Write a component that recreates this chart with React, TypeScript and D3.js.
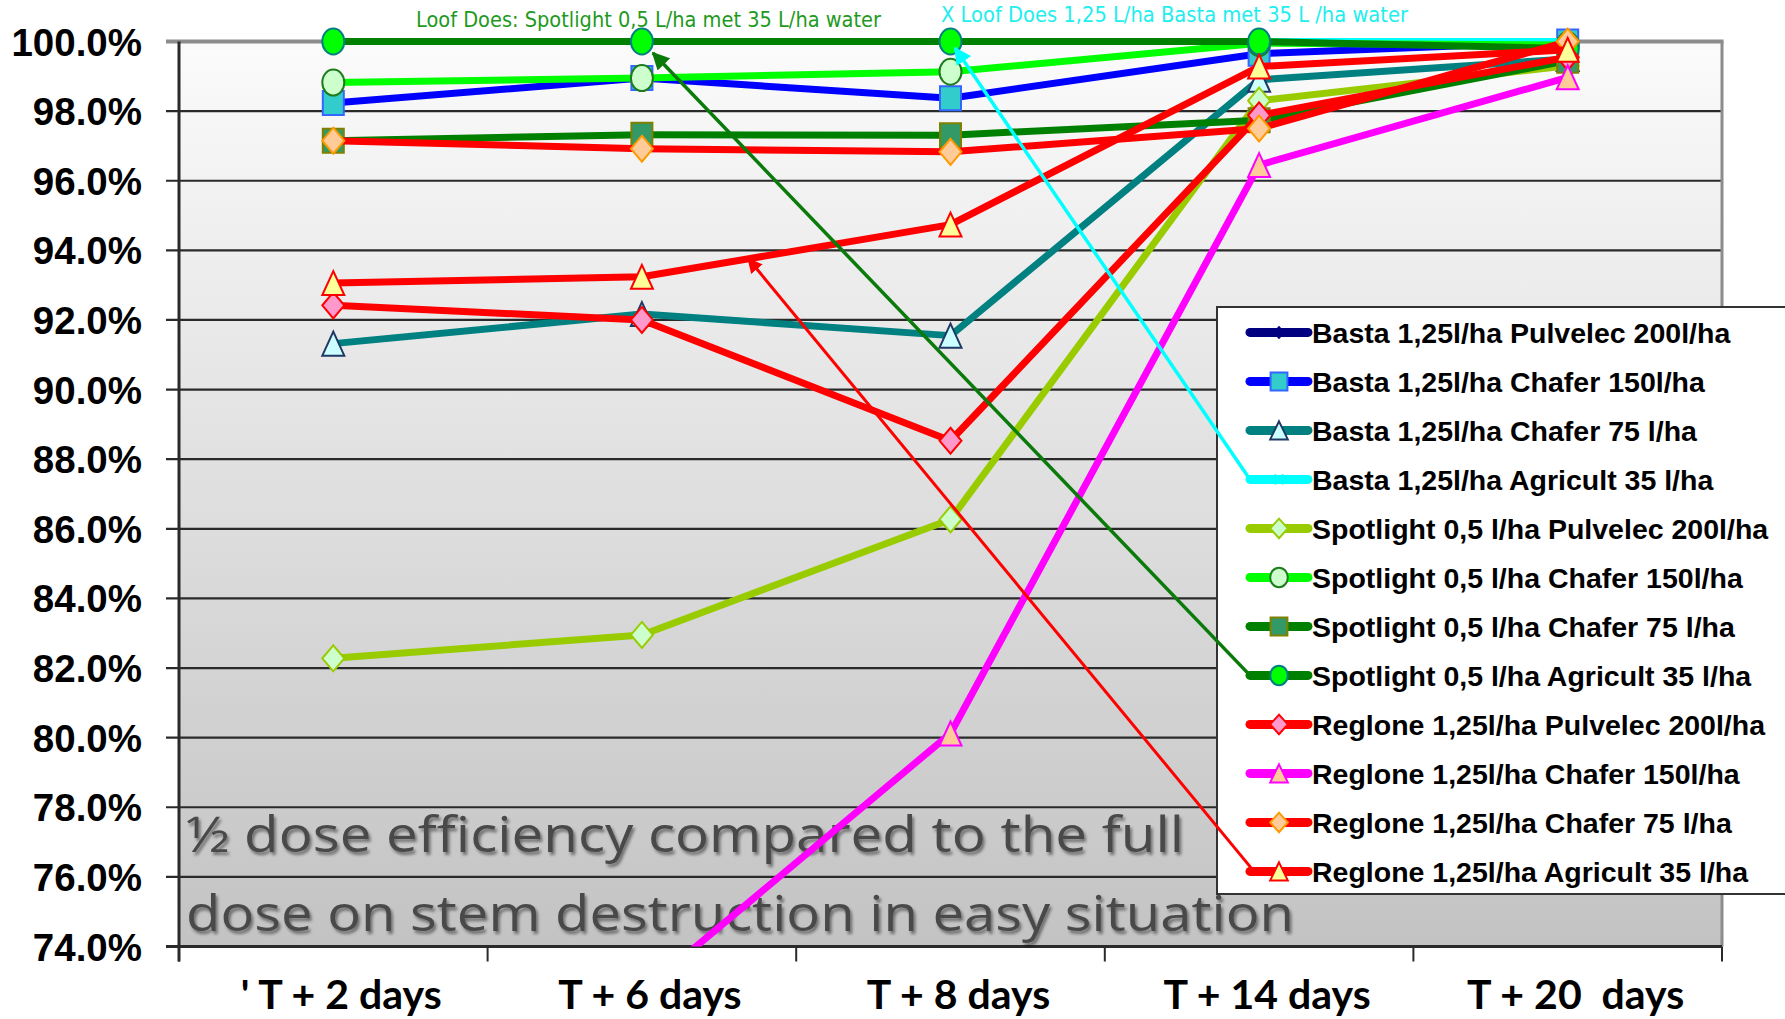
import React from 'react';
import * as d3 from 'd3';

const categories = ["' T + 2 days", 'T + 6 days', 'T + 8 days', 'T + 14 days', 'T + 20  days'];
const yTickValues = [74, 76, 78, 80, 82, 84, 86, 88, 90, 92, 94, 96, 98, 100];

const seriesNames = [
  'Basta 1,25l/ha Pulvelec 200l/ha',
  'Basta 1,25l/ha Chafer 150l/ha',
  'Basta 1,25l/ha Chafer 75 l/ha',
  'Basta 1,25l/ha Agricult 35 l/ha',
  'Spotlight 0,5 l/ha Pulvelec 200l/ha',
  'Spotlight 0,5 l/ha Chafer 150l/ha',
  'Spotlight 0,5 l/ha Chafer 75 l/ha',
  'Spotlight 0,5 l/ha Agricult 35 l/ha',
  'Reglone 1,25l/ha Pulvelec 200l/ha',
  'Reglone 1,25l/ha Chafer 150l/ha',
  'Reglone 1,25l/ha Chafer 75 l/ha',
  'Reglone 1,25l/ha Agricult 35 l/ha',
];

const bastaPulvelec200 = [100, 100, 100, 100, 100];
const bastaChafer150 = [98.23, 98.95, 98.37, 99.65, 100];
const bastaChafer75 = [91.32, 92.17, 91.55, 98.9, 99.5];
const bastaAgricult35 = [100, 100, 100, 100, 100];
const spotlightPulvelec200 = [82.28, 82.95, 86.27, 98.3, 99.3];
const spotlightChafer150 = [98.82, 98.95, 99.13, 99.95, 99.9];
const spotlightChafer75 = [97.15, 97.32, 97.31, 97.74, 99.45];
const spotlightAgricult35 = [100, 100, 100, 100, 99.8];
const reglonePulvelec200 = [92.42, 92.0, 88.53, 97.88, 99.55];
const regloneChafer150 = [70.0, 72.7, 80.12, 96.45, 98.97];
const regloneChafer75 = [97.15, 96.92, 96.83, 97.5, 100];
const regloneAgricult35 = [93.06, 93.24, 94.74, 99.28, 99.76];

const seriesValues = [
  bastaPulvelec200, bastaChafer150, bastaChafer75, bastaAgricult35,
  spotlightPulvelec200, spotlightChafer150, spotlightChafer75, spotlightAgricult35,
  reglonePulvelec200, regloneChafer150, regloneChafer75, regloneAgricult35,
];

const titleSpotlight = 'Loof Does: Spotlight 0,5 L/ha met 35 L/ha water';
const titleBasta = 'X Loof Does 1,25 L/ha Basta met 35 L /ha water';
const overlayLine1 = '\u00BD dose efficiency compared to the full';
const overlayLine2 = 'dose on stem destruction in easy situation';

type Style = { color: string; width: number; marker: string; fill: string; stroke: string; mw: number; mh: number };
const styles: Style[] = [
  { color: '#000080', width: 7, marker: 'diamond', fill: '#000080', stroke: '#000080', mw: 12, mh: 14 },
  { color: '#0000FF', width: 7, marker: 'square', fill: '#33CCCC', stroke: '#3366FF', mw: 21, mh: 24 },
  { color: '#008080', width: 7, marker: 'triangle', fill: '#CCFFFF', stroke: '#1F3864', mw: 22, mh: 24 },
  { color: '#00FFFF', width: 7, marker: 'x', fill: 'none', stroke: '#00FFFF', mw: 22, mh: 26 },
  { color: '#99CC00', width: 7, marker: 'diamond', fill: '#CCFFCC', stroke: '#99CC00', mw: 22, mh: 26 },
  { color: '#00FF00', width: 7, marker: 'circle', fill: '#CCFFCC', stroke: '#1E7B1E', mw: 22, mh: 26 },
  { color: '#008000', width: 7, marker: 'square', fill: '#339966', stroke: '#808000', mw: 21, mh: 24 },
  { color: '#008000', width: 7, marker: 'circle', fill: '#00FF00', stroke: '#008080', mw: 22, mh: 26 },
  { color: '#FF0000', width: 7, marker: 'diamond', fill: '#FF99CC', stroke: '#FF0000', mw: 22, mh: 26 },
  { color: '#FF00FF', width: 7, marker: 'triangle', fill: '#FFCC99', stroke: '#FF00FF', mw: 22, mh: 24 },
  { color: '#FF0000', width: 7, marker: 'diamond', fill: '#FFCC99', stroke: '#FF9900', mw: 22, mh: 26 },
  { color: '#FF0000', width: 7, marker: 'triangle', fill: '#FFFF99', stroke: '#FF0000', mw: 22, mh: 24 },
];

function markerPath(type: string, w: number, h: number): string {
  const a = w / 2, b = h / 2;
  switch (type) {
    case 'diamond': return `M0,${-b}L${a},0L0,${b}L${-a},0Z`;
    case 'square': return `M${-a},${-b}H${a}V${b}H${-a}Z`;
    case 'triangle': return `M0,${-b}L${a},${b}L${-a},${b}Z`;
    case 'circle': return `M${-a},0A${a},${b} 0 1,0 ${a},0A${a},${b} 0 1,0 ${-a},0Z`;
    case 'x': return `M${-a * 0.5},${-b * 0.5}L${a * 0.5},${b * 0.5}M${a * 0.5},${-b * 0.5}L${-a * 0.5},${b * 0.5}`;
    default: return '';
  }
}

const W = 1785, H = 1019;
const P = { left: 179, right: 1722, top: 41.5, bottom: 946.5 };
const LEG = { x: 1217, y: 307, w: 575, h: 587, firstY: 332.4, step: 49, lineX0: 1250, lineX1: 1308, textX: 1312 };

export default function App() {
  const x = d3.scaleBand<string>().domain(categories).range([P.left, P.right]).paddingInner(0).paddingOuter(0);
  const bw = x.bandwidth();
  const cx = (i: number) => (x(categories[i]) as number) + bw / 2;
  const y = d3.scaleLinear().domain([74, 100]).range([P.bottom, P.top]);
  const line = d3.line<number>().x((_, i) => cx(i)).y((v) => y(v));

  const legY = (i: number) => LEG.firstY + i * LEG.step;

  const shorten = (sx: number, sy: number, tx: number, ty: number, d: number) => {
    const dx = sx - tx, dy = sy - ty;
    const L = Math.hypot(dx, dy);
    return [tx + (dx / L) * d, ty + (dy / L) * d];
  };
  const gStart = [LEG.lineX0, legY(7)];
  const gEnd = shorten(gStart[0], gStart[1], cx(1), y(spotlightAgricult35[1]), 16);
  const cStart = [LEG.lineX0, legY(3)];
  const cEnd = shorten(cStart[0], cStart[1], cx(2), y(bastaAgricult35[2]), 8);
  const t = 0.345;
  const rTarget = [cx(1) + t * bw, y(regloneAgricult35[1]) + t * (y(regloneAgricult35[2]) - y(regloneAgricult35[1]))];
  const rStart = [LEG.lineX0 + 4, legY(11)];

  const gridTicks = yTickValues.filter((v) => v > 74 && v < 100);
  const boundaries = d3.range(categories.length + 1).map((i) => P.left + i * bw);

  return (
    <svg width={W} height={H} style={{ position: 'absolute', left: 0, top: 0, background: '#fff' }}
      fontFamily="'Liberation Sans', Arial, sans-serif">
      <defs>
        <linearGradient id="bg" x1="0" y1="0" x2="0" y2="1">
          <stop offset="0" stopColor="#FBFBFB" />
          <stop offset="1" stopColor="#C3C3C3" />
        </linearGradient>
        <clipPath id="plotClip">
          <rect x={P.left} y={P.top - 20} width={P.right - P.left + 20} height={P.bottom - P.top + 20} />
        </clipPath>
        <marker id="ahG" viewBox="0 0 10 10" refX="9" refY="5" markerWidth="5" markerHeight="5" orient="auto" markerUnits="strokeWidth">
          <path d="M0,0L10,5L0,10Z" fill="#0A7A0A" />
        </marker>
        <marker id="ahC" viewBox="0 0 10 10" refX="9" refY="5" markerWidth="5" markerHeight="5" orient="auto" markerUnits="strokeWidth">
          <path d="M0,0L10,5L0,10Z" fill="#00FFFF" />
        </marker>
        <marker id="ahR" viewBox="0 0 10 10" refX="9" refY="5" markerWidth="5" markerHeight="5" orient="auto" markerUnits="strokeWidth">
          <path d="M0,0L10,5L0,10Z" fill="#FF0000" />
        </marker>
        <filter id="shadow" x="-5%" y="-20%" width="110%" height="140%">
          <feDropShadow dx="2" dy="3" stdDeviation="1.5" floodColor="#000" floodOpacity="0.45" />
        </filter>
      </defs>

      <rect x={P.left} y={P.top} width={P.right - P.left} height={P.bottom - P.top} fill="url(#bg)" />

      {gridTicks.map((v) => (
        <line key={v} x1={P.left - 13} x2={P.right} y1={y(v)} y2={y(v)} stroke="#2A2A2A" strokeWidth={2.2} />
      ))}
      <line x1={P.left - 13} x2={P.right + 1.5} y1={P.top} y2={P.top} stroke="#8C8C8C" strokeWidth={4} />
      <line x1={P.right} x2={P.right} y1={P.top} y2={P.bottom} stroke="#8C8C8C" strokeWidth={3} />
      <line x1={P.left - 13} x2={P.right} y1={P.bottom} y2={P.bottom} stroke="#2A2A2A" strokeWidth={3} />
      {boundaries.map((bx, i) => (
        <line key={i} x1={bx} x2={bx} y1={P.bottom} y2={P.bottom + 15} stroke="#2A2A2A" strokeWidth={2} />
      ))}
      <line x1={P.left} x2={P.left} y1={P.top} y2={P.bottom + 15} stroke="#2A2A2A" strokeWidth={3} />

      {yTickValues.map((v) => (
        <text key={v} x={142} y={y(v) + 14} textAnchor="end" fontWeight="bold" fontSize={38.5} fill="#000">
          {d3.format('.1f')(v) + '%'}
        </text>
      ))}

      {categories.map((c, i) => (
        <text key={c} x={cx(i)} dx={8} y={1009} textAnchor="middle" fontWeight="bold" fontSize={41} fill="#000"
          fontFamily="Lato, 'Liberation Sans', sans-serif" style={{ whiteSpace: 'pre' }}>
          {c}
        </text>
      ))}

      <g filter="url(#shadow)" fontFamily="'Open Sans', 'Noto Sans', sans-serif" fill="#4A4A4A" fontSize={50}>
        <text x={186} y={852} textLength={998} lengthAdjust="spacingAndGlyphs">{overlayLine1}</text>
        <text x={186} y={931} textLength={1108} lengthAdjust="spacingAndGlyphs">{overlayLine2}</text>
      </g>

      <g clipPath="url(#plotClip)">
        {seriesValues.map((vals, s) => {
          const st = styles[s];
          return (
            <g key={s}>
              <path d={line(vals) || ''} fill="none" stroke={st.color} strokeWidth={st.width} strokeLinejoin="round" />
              {vals.map((v, i) => (
                v >= 74 ? (
                  <path key={i} transform={`translate(${cx(i)},${y(v)})`} d={markerPath(st.marker, st.mw, st.mh)}
                    fill={st.fill} stroke={st.stroke} strokeWidth={2} />
                ) : null
              ))}
            </g>
          );
        })}
      </g>

      <text x={416} y={27} fill="#1E9A1E" fontSize={21} fontFamily="'Liberation Sans Narrow', 'DejaVu Sans Condensed', sans-serif"
        textLength={465} lengthAdjust="spacingAndGlyphs">{titleSpotlight}</text>
      <text x={941} y={22} fill="#22EEEE" fontSize={21} fontFamily="'Liberation Sans Narrow', 'DejaVu Sans Condensed', sans-serif"
        textLength={467} lengthAdjust="spacingAndGlyphs">{titleBasta}</text>

      <rect x={LEG.x} y={LEG.y} width={LEG.w} height={LEG.h} fill="#FFFFFF" stroke="#333" strokeWidth={2} />
      {seriesNames.map((name, i) => {
        const st = styles[i];
        const ly = legY(i);
        const mid = (LEG.lineX0 + LEG.lineX1) / 2;
        return (
          <g key={name}>
            <line x1={LEG.lineX0} x2={LEG.lineX1} y1={ly} y2={ly} stroke={st.color} strokeWidth={9} strokeLinecap="round" />
            <path transform={`translate(${mid},${ly})`} d={markerPath(st.marker, st.mw * 0.8, st.mh * 0.75)}
              fill={st.fill} stroke={st.stroke} strokeWidth={2} />
            <text x={LEG.textX} y={ly + 10.5} fontWeight="bold" fontSize={28.5} fill="#000">{name}</text>
          </g>
        );
      })}

      <line x1={gStart[0]} y1={gStart[1]} x2={gEnd[0]} y2={gEnd[1]} stroke="#0A7A0A" strokeWidth={3.5} markerEnd="url(#ahG)" />
      <line x1={cStart[0]} y1={cStart[1]} x2={cEnd[0]} y2={cEnd[1]} stroke="#00FFFF" strokeWidth={3.5} markerEnd="url(#ahC)" />
      <line x1={rStart[0]} y1={rStart[1]} x2={rTarget[0]} y2={rTarget[1]} stroke="#FF0000" strokeWidth={3} markerEnd="url(#ahR)" />
    </svg>
  );
}
